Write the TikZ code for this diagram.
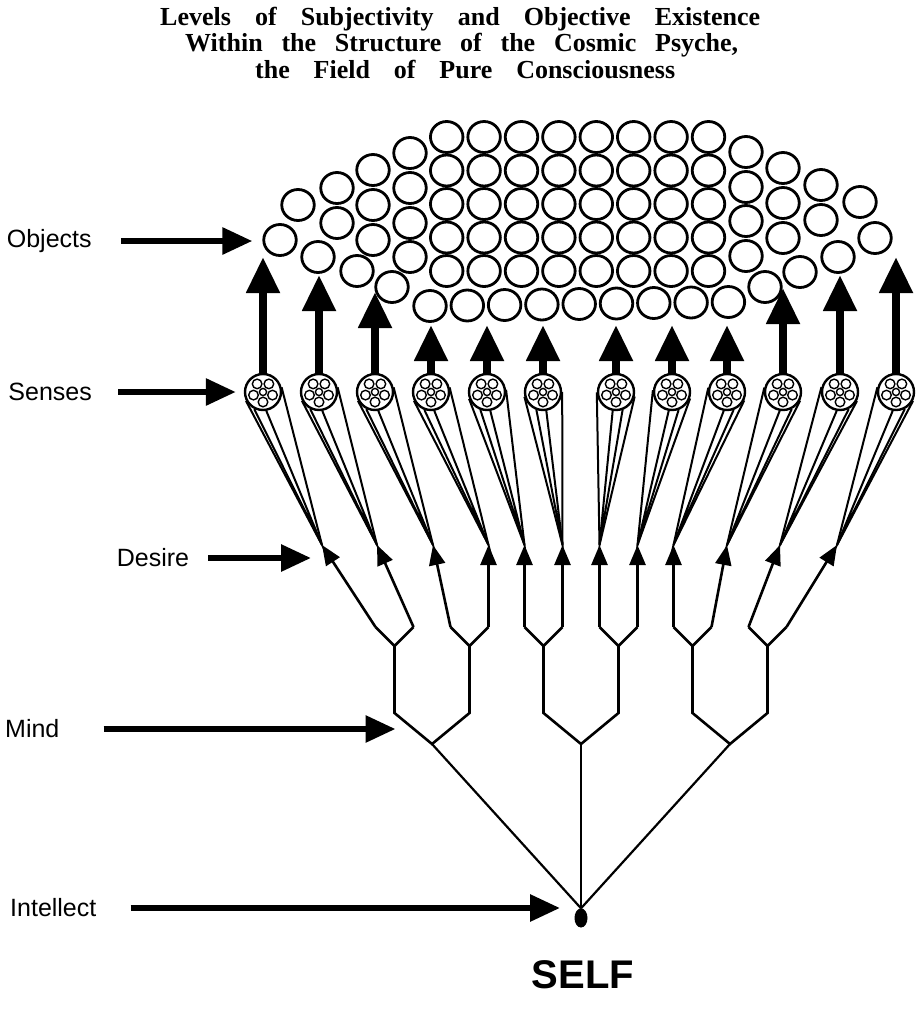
\documentclass[tikz,border=0pt]{standalone}
\usepackage{fontspec}
\setmainfont{Liberation Serif}
\setsansfont{Liberation Sans}
\usetikzlibrary{arrows.meta,calc,shapes.geometric}
\newcommand{\pTitleLine}[2]{\makebox[#1pt][s]{#2}}
\newcommand{\pFibres}[1]{%
  \foreach \pA in {90,162,234,306,378}{\draw[fibre] (#1) ++(\pA:10) circle (4.8pt);}%
  \draw[fibre] (#1) circle (3.6pt);}

\begin{document}
\begin{tikzpicture}[x=1pt,y=-1pt,
  objcirc/.style={ellipse, draw, line width=2.8pt, fill=white, minimum width=32.5pt, minimum height=31pt, inner sep=0pt},
  sense/.style={circle, draw, line width=2.4pt, fill=white, minimum size=36pt, inner sep=0pt},
  fibre/.style={line width=1.4pt},
  bundle/.style={line width=2pt},
  treeline/.style={line width=2.6pt, line join=miter},
  rootline/.style={line width=2.2pt},
  reach/.style={line width=8pt, -{Triangle[length=36pt,width=32pt]}},
  urge/.style={line width=2.6pt, -{Triangle[length=20pt,width=16pt]}},
  pointer/.style={line width=6pt, -{Triangle[length=30pt,width=26pt]}},
  lvltext/.style={font=\sffamily\fontsize{25}{30}\selectfont, anchor=west, inner sep=0pt},
  heading/.style={font=\bfseries\fontsize{26}{30}\selectfont, anchor=base west, inner sep=0pt}]
\fill[white] (0,0) rectangle (918,1015);
\useasboundingbox (0,0) rectangle (918,1015);
\node[heading] (t1) at (160,25) {\pTitleLine{600}{Levels of Subjectivity and Objective Existence}};
\node[heading] (t2) at (185,51.5) {\pTitleLine{553}{Within the Structure of the Cosmic Psyche,}};
\node[heading] (t3) at (255,78) {\pTitleLine{420}{the Field of Pure Consciousness}};
% objects
\node[objcirc] (g-1-1) at (446.7,137) {};
\node[objcirc] (g-2-1) at (484.1,137) {};
\node[objcirc] (g-3-1) at (521.5,137) {};
\node[objcirc] (g-4-1) at (558.9,137) {};
\node[objcirc] (g-5-1) at (596.3,137) {};
\node[objcirc] (g-6-1) at (633.7,137) {};
\node[objcirc] (g-7-1) at (671.1,137) {};
\node[objcirc] (g-8-1) at (708.5,137) {};
\node[objcirc] (g-1-2) at (446.7,170.5) {};
\node[objcirc] (g-2-2) at (484.1,170.5) {};
\node[objcirc] (g-3-2) at (521.5,170.5) {};
\node[objcirc] (g-4-2) at (558.9,170.5) {};
\node[objcirc] (g-5-2) at (596.3,170.5) {};
\node[objcirc] (g-6-2) at (633.7,170.5) {};
\node[objcirc] (g-7-2) at (671.1,170.5) {};
\node[objcirc] (g-8-2) at (708.5,170.5) {};
\node[objcirc] (g-1-3) at (446.7,204) {};
\node[objcirc] (g-2-3) at (484.1,204) {};
\node[objcirc] (g-3-3) at (521.5,204) {};
\node[objcirc] (g-4-3) at (558.9,204) {};
\node[objcirc] (g-5-3) at (596.3,204) {};
\node[objcirc] (g-6-3) at (633.7,204) {};
\node[objcirc] (g-7-3) at (671.1,204) {};
\node[objcirc] (g-8-3) at (708.5,204) {};
\node[objcirc] (g-1-4) at (446.7,237.5) {};
\node[objcirc] (g-2-4) at (484.1,237.5) {};
\node[objcirc] (g-3-4) at (521.5,237.5) {};
\node[objcirc] (g-4-4) at (558.9,237.5) {};
\node[objcirc] (g-5-4) at (596.3,237.5) {};
\node[objcirc] (g-6-4) at (633.7,237.5) {};
\node[objcirc] (g-7-4) at (671.1,237.5) {};
\node[objcirc] (g-8-4) at (708.5,237.5) {};
\node[objcirc] (g-1-5) at (446.7,271) {};
\node[objcirc] (g-2-5) at (484.1,271) {};
\node[objcirc] (g-3-5) at (521.5,271) {};
\node[objcirc] (g-4-5) at (558.9,271) {};
\node[objcirc] (g-5-5) at (596.3,271) {};
\node[objcirc] (g-6-5) at (633.7,271) {};
\node[objcirc] (g-7-5) at (671.1,271) {};
\node[objcirc] (g-8-5) at (708.5,271) {};
\node[objcirc] (b-1) at (430,306) {};
\node[objcirc] (b-2) at (467.3,305.5) {};
\node[objcirc] (b-3) at (504.6,305) {};
\node[objcirc] (b-4) at (541.9,304.5) {};
\node[objcirc] (b-5) at (579.2,304) {};
\node[objcirc] (b-6) at (616.5,303.5) {};
\node[objcirc] (b-7) at (653.8,303) {};
\node[objcirc] (b-8) at (691.1,302.5) {};
\node[objcirc] (b-9) at (728.4,302) {};
\node[objcirc] (lw-1) at (280,240) {};
\node[objcirc] (lw-2) at (298,205) {};
\node[objcirc] (lw-3) at (337,188) {};
\node[objcirc] (lw-4) at (337,223) {};
\node[objcirc] (lw-5) at (373,170) {};
\node[objcirc] (lw-6) at (373,205) {};
\node[objcirc] (lw-7) at (373,240) {};
\node[objcirc] (lw-8) at (410,153) {};
\node[objcirc] (lw-9) at (410,188) {};
\node[objcirc] (lw-10) at (410,223) {};
\node[objcirc] (lw-11) at (410,257) {};
\node[objcirc] (lw-12) at (318,257) {};
\node[objcirc] (lw-13) at (357,271) {};
\node[objcirc] (lw-14) at (392,287) {};
\node[objcirc] (rw-1) at (875,238) {};
\node[objcirc] (rw-2) at (860,202) {};
\node[objcirc] (rw-3) at (821,185) {};
\node[objcirc] (rw-4) at (821,220) {};
\node[objcirc] (rw-5) at (783,168) {};
\node[objcirc] (rw-6) at (783,203) {};
\node[objcirc] (rw-7) at (783,238) {};
\node[objcirc] (rw-8) at (746,152) {};
\node[objcirc] (rw-9) at (746,187) {};
\node[objcirc] (rw-10) at (746,221) {};
\node[objcirc] (rw-11) at (746,256) {};
\node[objcirc] (rw-12) at (838,257) {};
\node[objcirc] (rw-13) at (800,272) {};
\node[objcirc] (rw-14) at (765,287) {};
% senses
\node[sense] (s1) at (263,392) {};
\node[sense] (s2) at (319,392) {};
\node[sense] (s3) at (375,392) {};
\node[sense] (s4) at (431,392) {};
\node[sense] (s5) at (487,392) {};
\node[sense] (s6) at (543,392) {};
\node[sense] (s7) at (616,392) {};
\node[sense] (s8) at (672,392) {};
\node[sense] (s9) at (727,392) {};
\node[sense] (s10) at (783,392) {};
\node[sense] (s11) at (840,392) {};
\node[sense] (s12) at (896,392) {};
\coordinate (p1) at (263,257);
\coordinate (p2) at (319,275);
\coordinate (p3) at (375,292);
\coordinate (p4) at (431,325);
\coordinate (p5) at (487,325);
\coordinate (p6) at (543,325);
\coordinate (p7) at (616,325);
\coordinate (p8) at (672,325);
\coordinate (p9) at (727,325);
\coordinate (p10) at (783,288);
\coordinate (p11) at (840,275);
\coordinate (p12) at (896,257);
\draw[reach] (s1.north) -- (p1);
\draw[reach] (s2.north) -- (p2);
\draw[reach] (s3.north) -- (p3);
\draw[reach] (s4.north) -- (p4);
\draw[reach] (s5.north) -- (p5);
\draw[reach] (s6.north) -- (p6);
\draw[reach] (s7.north) -- (p7);
\draw[reach] (s8.north) -- (p8);
\draw[reach] (s9.north) -- (p9);
\draw[reach] (s10.north) -- (p10);
\draw[reach] (s11.north) -- (p11);
\draw[reach] (s12.north) -- (p12);
\pFibres{s1} \pFibres{s2} \pFibres{s3} \pFibres{s4} \pFibres{s5} \pFibres{s6}
\pFibres{s7} \pFibres{s8} \pFibres{s9} \pFibres{s10} \pFibres{s11} \pFibres{s12}
% desire
\coordinate (d1) at (322,545);
\coordinate (d2) at (377,545);
\coordinate (d3) at (433,545);
\coordinate (d4) at (488.5,545);
\coordinate (d5) at (524.5,545);
\coordinate (d6) at (562.5,545);
\coordinate (d7) at (599.5,545);
\coordinate (d8) at (637.5,545);
\coordinate (d9) at (673.5,545);
\coordinate (d10) at (727,545);
\coordinate (d11) at (780,545);
\coordinate (d12) at (837,545);
\draw[bundle] (tangent cs:node=s1,point={(d1)},solution=1) -- (d1) -- (tangent cs:node=s1,point={(d1)},solution=2);
\draw[bundle] (s1.243) -- (d1) -- (s1.280);
\draw[bundle] (tangent cs:node=s2,point={(d2)},solution=1) -- (d2) -- (tangent cs:node=s2,point={(d2)},solution=2);
\draw[bundle] (s2.243) -- (d2) -- (s2.280);
\draw[bundle] (tangent cs:node=s3,point={(d3)},solution=1) -- (d3) -- (tangent cs:node=s3,point={(d3)},solution=2);
\draw[bundle] (s3.243) -- (d3) -- (s3.280);
\draw[bundle] (tangent cs:node=s4,point={(d4)},solution=1) -- (d4) -- (tangent cs:node=s4,point={(d4)},solution=2);
\draw[bundle] (s4.250) -- (d4) -- (s4.280);
\draw[bundle] (tangent cs:node=s5,point={(d5)},solution=1) -- (d5) -- (tangent cs:node=s5,point={(d5)},solution=2);
\draw[bundle] (s5.250) -- (d5) -- (s5.280);
\draw[bundle] (tangent cs:node=s6,point={(d6)},solution=1) -- (d6) -- (tangent cs:node=s6,point={(d6)},solution=2);
\draw[bundle] (s6.250) -- (d6) -- (s6.280);
\draw[bundle] (tangent cs:node=s7,point={(d7)},solution=1) -- (d7) -- (tangent cs:node=s7,point={(d7)},solution=2);
\draw[bundle] (s7.260) -- (d7) -- (s7.290);
\draw[bundle] (tangent cs:node=s8,point={(d8)},solution=1) -- (d8) -- (tangent cs:node=s8,point={(d8)},solution=2);
\draw[bundle] (s8.260) -- (d8) -- (s8.290);
\draw[bundle] (tangent cs:node=s9,point={(d9)},solution=1) -- (d9) -- (tangent cs:node=s9,point={(d9)},solution=2);
\draw[bundle] (s9.260) -- (d9) -- (s9.290);
\draw[bundle] (tangent cs:node=s10,point={(d10)},solution=1) -- (d10) -- (tangent cs:node=s10,point={(d10)},solution=2);
\draw[bundle] (s10.260) -- (d10) -- (s10.297);
\draw[bundle] (tangent cs:node=s11,point={(d11)},solution=1) -- (d11) -- (tangent cs:node=s11,point={(d11)},solution=2);
\draw[bundle] (s11.260) -- (d11) -- (s11.297);
\draw[bundle] (tangent cs:node=s12,point={(d12)},solution=1) -- (d12) -- (tangent cs:node=s12,point={(d12)},solution=2);
\draw[bundle] (s12.260) -- (d12) -- (s12.297);
% mind
\coordinate (a1) at (375.5,627);
\coordinate (a2) at (413.5,627);
\coordinate (a3) at (450.5,627);
\coordinate (a4) at (488.5,627);
\coordinate (a5) at (524.5,627);
\coordinate (a6) at (562.5,627);
\coordinate (a7) at (599.5,627);
\coordinate (a8) at (637.5,627);
\coordinate (a9) at (673.5,627);
\coordinate (a10) at (711.5,627);
\coordinate (a11) at (748.5,627);
\coordinate (a12) at (786.5,627);
\draw[urge] (a1) -- (d1);
\draw[urge] (a2) -- (d2);
\draw[urge] (a3) -- (d3);
\draw[urge] (a4) -- (d4);
\draw[urge] (a5) -- (d5);
\draw[urge] (a6) -- (d6);
\draw[urge] (a7) -- (d7);
\draw[urge] (a8) -- (d8);
\draw[urge] (a9) -- (d9);
\draw[urge] (a10) -- (d10);
\draw[urge] (a11) -- (d11);
\draw[urge] (a12) -- (d12);
\coordinate (u1) at (394.5,646);
\coordinate (u2) at (469.5,646);
\coordinate (u3) at (543.5,646);
\coordinate (u4) at (618.5,646);
\coordinate (u5) at (692.5,646);
\coordinate (u6) at (767.5,646);
\coordinate (w1) at (394.5,713);
\coordinate (w2) at (469.5,713);
\coordinate (w3) at (543.5,713);
\coordinate (w4) at (618.5,713);
\coordinate (w5) at (692.5,713);
\coordinate (w6) at (767.5,713);
\coordinate (m1) at (432,744);
\coordinate (m2) at (581,744);
\coordinate (m3) at (730,744);
\draw[treeline] (a1) -- (u1) -- (a2);
\draw[treeline] (a3) -- (u2) -- (a4);
\draw[treeline] (a5) -- (u3) -- (a6);
\draw[treeline] (a7) -- (u4) -- (a8);
\draw[treeline] (a9) -- (u5) -- (a10);
\draw[treeline] (a11) -- (u6) -- (a12);
\draw[treeline] (u1) -- (w1) -- (m1) -- (w2) -- (u2);
\draw[treeline] (u3) -- (w3) -- (m2) -- (w4) -- (u4);
\draw[treeline] (u5) -- (w5) -- (m3) -- (w6) -- (u6);
% intellect
\node[ellipse, fill, minimum width=13pt, minimum height=19pt, inner sep=0pt] (self) at (581,918) {};
\draw[rootline] (self.north) -- (m1);
\draw[rootline] (self.north) -- (m2);
\draw[rootline] (self.north) -- (m3);
\node[font=\sffamily\bfseries\fontsize{40}{46}\selectfont, inner sep=0pt] (selflabel) at (583,975) {SELF};
% levels
\node[lvltext] (lobj) at (6.7,241) {Objects};
\node[lvltext] (lsen) at (8.3,392) {Senses};
\node[lvltext] (ldes) at (116.7,558) {Desire};
\node[lvltext] (lmind) at (5,729) {Mind};
\node[lvltext] (lint) at (10,908) {Intellect};
\draw[pointer] ([xshift=29pt]lobj.east) -- ($(lobj.east -| lw-1.west)+(-10,0)$);
\draw[pointer] ([xshift=26pt]lsen.east) -- ($(lsen.east -| s1.west)+(-8,0)$);
\draw[pointer] ([xshift=19pt]ldes.east) -- ($(ldes.east -| d1)+(-11,0)$);
\draw[pointer] ([xshift=44pt]lmind.east) -- ($(lmind.east -| w1)+(1,0)$);
\draw[pointer] ([xshift=34pt]lint.east) -- ($(lint.east -| self)+(-21,0)$);
\end{tikzpicture}
\end{document}
